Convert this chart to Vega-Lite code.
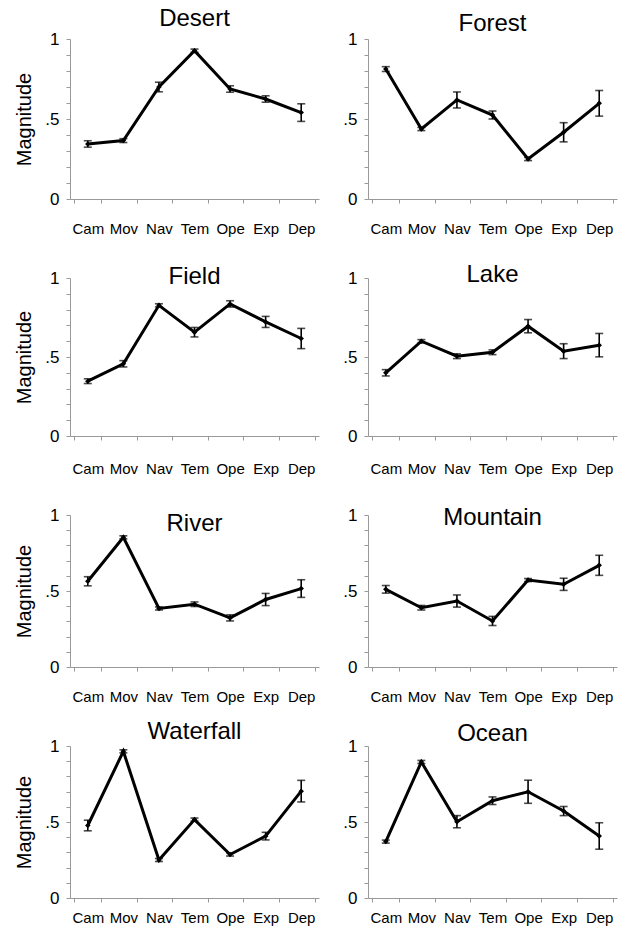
{
  "$schema": "https://vega.github.io/schema/vega-lite/v6.json",
  "background": "white",
  "padding": {"left": 14, "top": 7, "right": 5, "bottom": 5},
  "datasets": {
    "d": [
      {"scene": "Desert", "cat": "Cam", "m": 0.344, "e": 0.02},
      {"scene": "Desert", "cat": "Mov", "m": 0.365, "e": 0.012},
      {"scene": "Desert", "cat": "Nav", "m": 0.70, "e": 0.03},
      {"scene": "Desert", "cat": "Tem", "m": 0.927, "e": 0.01},
      {"scene": "Desert", "cat": "Ope", "m": 0.6875, "e": 0.02},
      {"scene": "Desert", "cat": "Exp", "m": 0.625, "e": 0.02},
      {"scene": "Desert", "cat": "Dep", "m": 0.54, "e": 0.055},
      {"scene": "Forest", "cat": "Cam", "m": 0.812, "e": 0.015},
      {"scene": "Forest", "cat": "Mov", "m": 0.4375, "e": 0.01},
      {"scene": "Forest", "cat": "Nav", "m": 0.619, "e": 0.05},
      {"scene": "Forest", "cat": "Tem", "m": 0.525, "e": 0.025},
      {"scene": "Forest", "cat": "Ope", "m": 0.25, "e": 0.01},
      {"scene": "Forest", "cat": "Exp", "m": 0.417, "e": 0.06},
      {"scene": "Forest", "cat": "Dep", "m": 0.598, "e": 0.08},
      {"scene": "Field", "cat": "Cam", "m": 0.347, "e": 0.015},
      {"scene": "Field", "cat": "Mov", "m": 0.457, "e": 0.02},
      {"scene": "Field", "cat": "Nav", "m": 0.827, "e": 0.01},
      {"scene": "Field", "cat": "Tem", "m": 0.657, "e": 0.03},
      {"scene": "Field", "cat": "Ope", "m": 0.836, "e": 0.02},
      {"scene": "Field", "cat": "Exp", "m": 0.722, "e": 0.035},
      {"scene": "Field", "cat": "Dep", "m": 0.617, "e": 0.064},
      {"scene": "Lake", "cat": "Cam", "m": 0.40, "e": 0.02},
      {"scene": "Lake", "cat": "Mov", "m": 0.60, "e": 0.01},
      {"scene": "Lake", "cat": "Nav", "m": 0.505, "e": 0.015},
      {"scene": "Lake", "cat": "Tem", "m": 0.53, "e": 0.015},
      {"scene": "Lake", "cat": "Ope", "m": 0.695, "e": 0.042},
      {"scene": "Lake", "cat": "Exp", "m": 0.537, "e": 0.047},
      {"scene": "Lake", "cat": "Dep", "m": 0.575, "e": 0.074},
      {"scene": "River", "cat": "Cam", "m": 0.564, "e": 0.03},
      {"scene": "River", "cat": "Mov", "m": 0.853, "e": 0.01},
      {"scene": "River", "cat": "Nav", "m": 0.385, "e": 0.01},
      {"scene": "River", "cat": "Tem", "m": 0.413, "e": 0.015},
      {"scene": "River", "cat": "Ope", "m": 0.323, "e": 0.02},
      {"scene": "River", "cat": "Exp", "m": 0.444, "e": 0.04},
      {"scene": "River", "cat": "Dep", "m": 0.516, "e": 0.058},
      {"scene": "Mountain", "cat": "Cam", "m": 0.511, "e": 0.025},
      {"scene": "Mountain", "cat": "Mov", "m": 0.39, "e": 0.015},
      {"scene": "Mountain", "cat": "Nav", "m": 0.434, "e": 0.04},
      {"scene": "Mountain", "cat": "Tem", "m": 0.303, "e": 0.03},
      {"scene": "Mountain", "cat": "Ope", "m": 0.572, "e": 0.01},
      {"scene": "Mountain", "cat": "Exp", "m": 0.544, "e": 0.04},
      {"scene": "Mountain", "cat": "Dep", "m": 0.669, "e": 0.066},
      {"scene": "Waterfall", "cat": "Cam", "m": 0.477, "e": 0.035},
      {"scene": "Waterfall", "cat": "Mov", "m": 0.965, "e": 0.01},
      {"scene": "Waterfall", "cat": "Nav", "m": 0.25, "e": 0.01},
      {"scene": "Waterfall", "cat": "Tem", "m": 0.516, "e": 0.01},
      {"scene": "Waterfall", "cat": "Ope", "m": 0.286, "e": 0.01},
      {"scene": "Waterfall", "cat": "Exp", "m": 0.407, "e": 0.025},
      {"scene": "Waterfall", "cat": "Dep", "m": 0.703, "e": 0.071},
      {"scene": "Ocean", "cat": "Cam", "m": 0.371, "e": 0.01},
      {"scene": "Ocean", "cat": "Mov", "m": 0.895, "e": 0.01},
      {"scene": "Ocean", "cat": "Nav", "m": 0.502, "e": 0.04},
      {"scene": "Ocean", "cat": "Tem", "m": 0.64, "e": 0.025},
      {"scene": "Ocean", "cat": "Ope", "m": 0.699, "e": 0.076},
      {"scene": "Ocean", "cat": "Exp", "m": 0.572, "e": 0.03},
      {"scene": "Ocean", "cat": "Dep", "m": 0.408, "e": 0.087}
    ]
  },
  "data": {"name": "d"},
  "bounds": "flush",
  "columns": 2,
  "spacing": {"row": 79, "column": 49},
  "concat": [
    {
      "width": 249, "height": 160,
      "title": {"text": "Desert", "offset": -1},
      "transform": [{"filter": "datum.scene === 'Desert'"}],
      "encoding": {
        "x": {"field": "cat", "type": "nominal", "sort": ["Cam", "Mov", "Nav", "Tem", "Ope", "Exp", "Dep"], "axis": {"labelPadding": 18}},
        "y": {"field": "m", "type": "quantitative", "scale": {"domain": [0, 1], "nice": false}, "title": "Magnitude", "axis": {"values": [0, 0.1, 0.2, 0.3, 0.4, 0.5, 0.6, 0.7, 0.8, 0.9, 1]}}
      },
      "layer": [
        {"mark": {"type": "errorbar", "ticks": {"size": 8, "thickness": 1.6}, "rule": {"strokeWidth": 1.6}}, "encoding": {"yError": {"field": "e"}}},
        {"mark": {"type": "line"}, "encoding": {"order": {"value": null}}},
        {"mark": {"type": "point"}}
      ]
    },
    {
      "width": 249, "height": 160,
      "title": {"text": "Forest", "offset": -6},
      "transform": [{"filter": "datum.scene === 'Forest'"}],
      "encoding": {
        "x": {"field": "cat", "type": "nominal", "sort": ["Cam", "Mov", "Nav", "Tem", "Ope", "Exp", "Dep"], "axis": {"labelPadding": 18}},
        "y": {"field": "m", "type": "quantitative", "scale": {"domain": [0, 1], "nice": false}, "title": null, "axis": {"values": [0, 0.1, 0.2, 0.3, 0.4, 0.5, 0.6, 0.7, 0.8, 0.9, 1]}}
      },
      "layer": [
        {"mark": {"type": "errorbar", "ticks": {"size": 8, "thickness": 1.6}, "rule": {"strokeWidth": 1.6}}, "encoding": {"yError": {"field": "e"}}},
        {"mark": {"type": "line"}, "encoding": {"order": {"value": null}}},
        {"mark": {"type": "point"}}
      ]
    },
    {
      "width": 249, "height": 158,
      "title": {"text": "Field", "offset": -20},
      "transform": [{"filter": "datum.scene === 'Field'"}],
      "encoding": {
        "x": {"field": "cat", "type": "nominal", "sort": ["Cam", "Mov", "Nav", "Tem", "Ope", "Exp", "Dep"], "axis": {"labelPadding": 21}},
        "y": {"field": "m", "type": "quantitative", "scale": {"domain": [0, 1], "nice": false}, "title": "Magnitude", "axis": {"values": [0, 0.1, 0.2, 0.3, 0.4, 0.5, 0.6, 0.7, 0.8, 0.9, 1]}}
      },
      "layer": [
        {"mark": {"type": "errorbar", "ticks": {"size": 8, "thickness": 1.6}, "rule": {"strokeWidth": 1.6}}, "encoding": {"yError": {"field": "e"}}},
        {"mark": {"type": "line"}, "encoding": {"order": {"value": null}}},
        {"mark": {"type": "point"}}
      ]
    },
    {
      "width": 249, "height": 158,
      "title": {"text": "Lake", "offset": -18},
      "transform": [{"filter": "datum.scene === 'Lake'"}],
      "encoding": {
        "x": {"field": "cat", "type": "nominal", "sort": ["Cam", "Mov", "Nav", "Tem", "Ope", "Exp", "Dep"], "axis": {"labelPadding": 21}},
        "y": {"field": "m", "type": "quantitative", "scale": {"domain": [0, 1], "nice": false}, "title": null, "axis": {"values": [0, 0.1, 0.2, 0.3, 0.4, 0.5, 0.6, 0.7, 0.8, 0.9, 1]}}
      },
      "layer": [
        {"mark": {"type": "errorbar", "ticks": {"size": 8, "thickness": 1.6}, "rule": {"strokeWidth": 1.6}}, "encoding": {"yError": {"field": "e"}}},
        {"mark": {"type": "line"}, "encoding": {"order": {"value": null}}},
        {"mark": {"type": "point"}}
      ]
    },
    {
      "width": 249, "height": 152,
      "title": {"text": "River", "offset": -30},
      "transform": [{"filter": "datum.scene === 'River'"}],
      "encoding": {
        "x": {"field": "cat", "type": "nominal", "sort": ["Cam", "Mov", "Nav", "Tem", "Ope", "Exp", "Dep"], "axis": {"labelPadding": 18}},
        "y": {"field": "m", "type": "quantitative", "scale": {"domain": [0, 1], "nice": false}, "title": "Magnitude", "axis": {"values": [0, 0.1, 0.2, 0.3, 0.4, 0.5, 0.6, 0.7, 0.8, 0.9, 1]}}
      },
      "layer": [
        {"mark": {"type": "errorbar", "ticks": {"size": 8, "thickness": 1.6}, "rule": {"strokeWidth": 1.6}}, "encoding": {"yError": {"field": "e"}}},
        {"mark": {"type": "line"}, "encoding": {"order": {"value": null}}},
        {"mark": {"type": "point"}}
      ]
    },
    {
      "width": 249, "height": 152,
      "title": {"text": "Mountain", "offset": -24},
      "transform": [{"filter": "datum.scene === 'Mountain'"}],
      "encoding": {
        "x": {"field": "cat", "type": "nominal", "sort": ["Cam", "Mov", "Nav", "Tem", "Ope", "Exp", "Dep"], "axis": {"labelPadding": 18}},
        "y": {"field": "m", "type": "quantitative", "scale": {"domain": [0, 1], "nice": false}, "title": null, "axis": {"values": [0, 0.1, 0.2, 0.3, 0.4, 0.5, 0.6, 0.7, 0.8, 0.9, 1]}}
      },
      "layer": [
        {"mark": {"type": "errorbar", "ticks": {"size": 8, "thickness": 1.6}, "rule": {"strokeWidth": 1.6}}, "encoding": {"yError": {"field": "e"}}},
        {"mark": {"type": "line"}, "encoding": {"order": {"value": null}}},
        {"mark": {"type": "point"}}
      ]
    },
    {
      "width": 249, "height": 152,
      "title": {"text": "Waterfall", "offset": -7},
      "transform": [{"filter": "datum.scene === 'Waterfall'"}],
      "encoding": {
        "x": {"field": "cat", "type": "nominal", "sort": ["Cam", "Mov", "Nav", "Tem", "Ope", "Exp", "Dep"], "axis": {"labelPadding": 8}},
        "y": {"field": "m", "type": "quantitative", "scale": {"domain": [0, 1], "nice": false}, "title": "Magnitude", "axis": {"values": [0, 0.1, 0.2, 0.3, 0.4, 0.5, 0.6, 0.7, 0.8, 0.9, 1]}}
      },
      "layer": [
        {"mark": {"type": "errorbar", "ticks": {"size": 8, "thickness": 1.6}, "rule": {"strokeWidth": 1.6}}, "encoding": {"yError": {"field": "e"}}},
        {"mark": {"type": "line"}, "encoding": {"order": {"value": null}}},
        {"mark": {"type": "point"}}
      ]
    },
    {
      "width": 249, "height": 152,
      "title": {"text": "Ocean", "offset": -9},
      "transform": [{"filter": "datum.scene === 'Ocean'"}],
      "encoding": {
        "x": {"field": "cat", "type": "nominal", "sort": ["Cam", "Mov", "Nav", "Tem", "Ope", "Exp", "Dep"], "axis": {"labelPadding": 8}},
        "y": {"field": "m", "type": "quantitative", "scale": {"domain": [0, 1], "nice": false}, "title": null, "axis": {"values": [0, 0.1, 0.2, 0.3, 0.4, 0.5, 0.6, 0.7, 0.8, 0.9, 1]}}
      },
      "layer": [
        {"mark": {"type": "errorbar", "ticks": {"size": 8, "thickness": 1.6}, "rule": {"strokeWidth": 1.6}}, "encoding": {"yError": {"field": "e"}}},
        {"mark": {"type": "line"}, "encoding": {"order": {"value": null}}},
        {"mark": {"type": "point"}}
      ]
    }
  ],
  "config": {
    "font": "Liberation Sans, Arial, sans-serif",
    "view": {"stroke": null},
    "mark": {"color": "black"},
    "line": {"color": "black", "strokeWidth": 3},
    "point": {"color": "black", "filled": true, "shape": "diamond", "size": 30, "opacity": 1},
    "title": {"fontSize": 24, "fontWeight": "normal", "color": "black", "baseline": "alphabetic", "anchor": "middle", "frame": "group"},
    "axis": {"grid": false, "domainColor": "#999999", "tickColor": "#999999", "labelColor": "black", "titleColor": "black", "tickSize": 4},
    "axisX": {"title": null, "labelAngle": 0, "tickBand": "extent", "labelFontSize": 15, "labelBaseline": "top"},
    "axisY": {"labelExpr": "datum.value === 0 ? '0' : datum.value === 0.5 ? '.5' : datum.value === 1 ? '1' : ''", "labelOverlap": false, "labelFontSize": 17, "labelPadding": 7, "titleFontSize": 20, "titleFontWeight": "normal", "titlePadding": 10}
  }
}
